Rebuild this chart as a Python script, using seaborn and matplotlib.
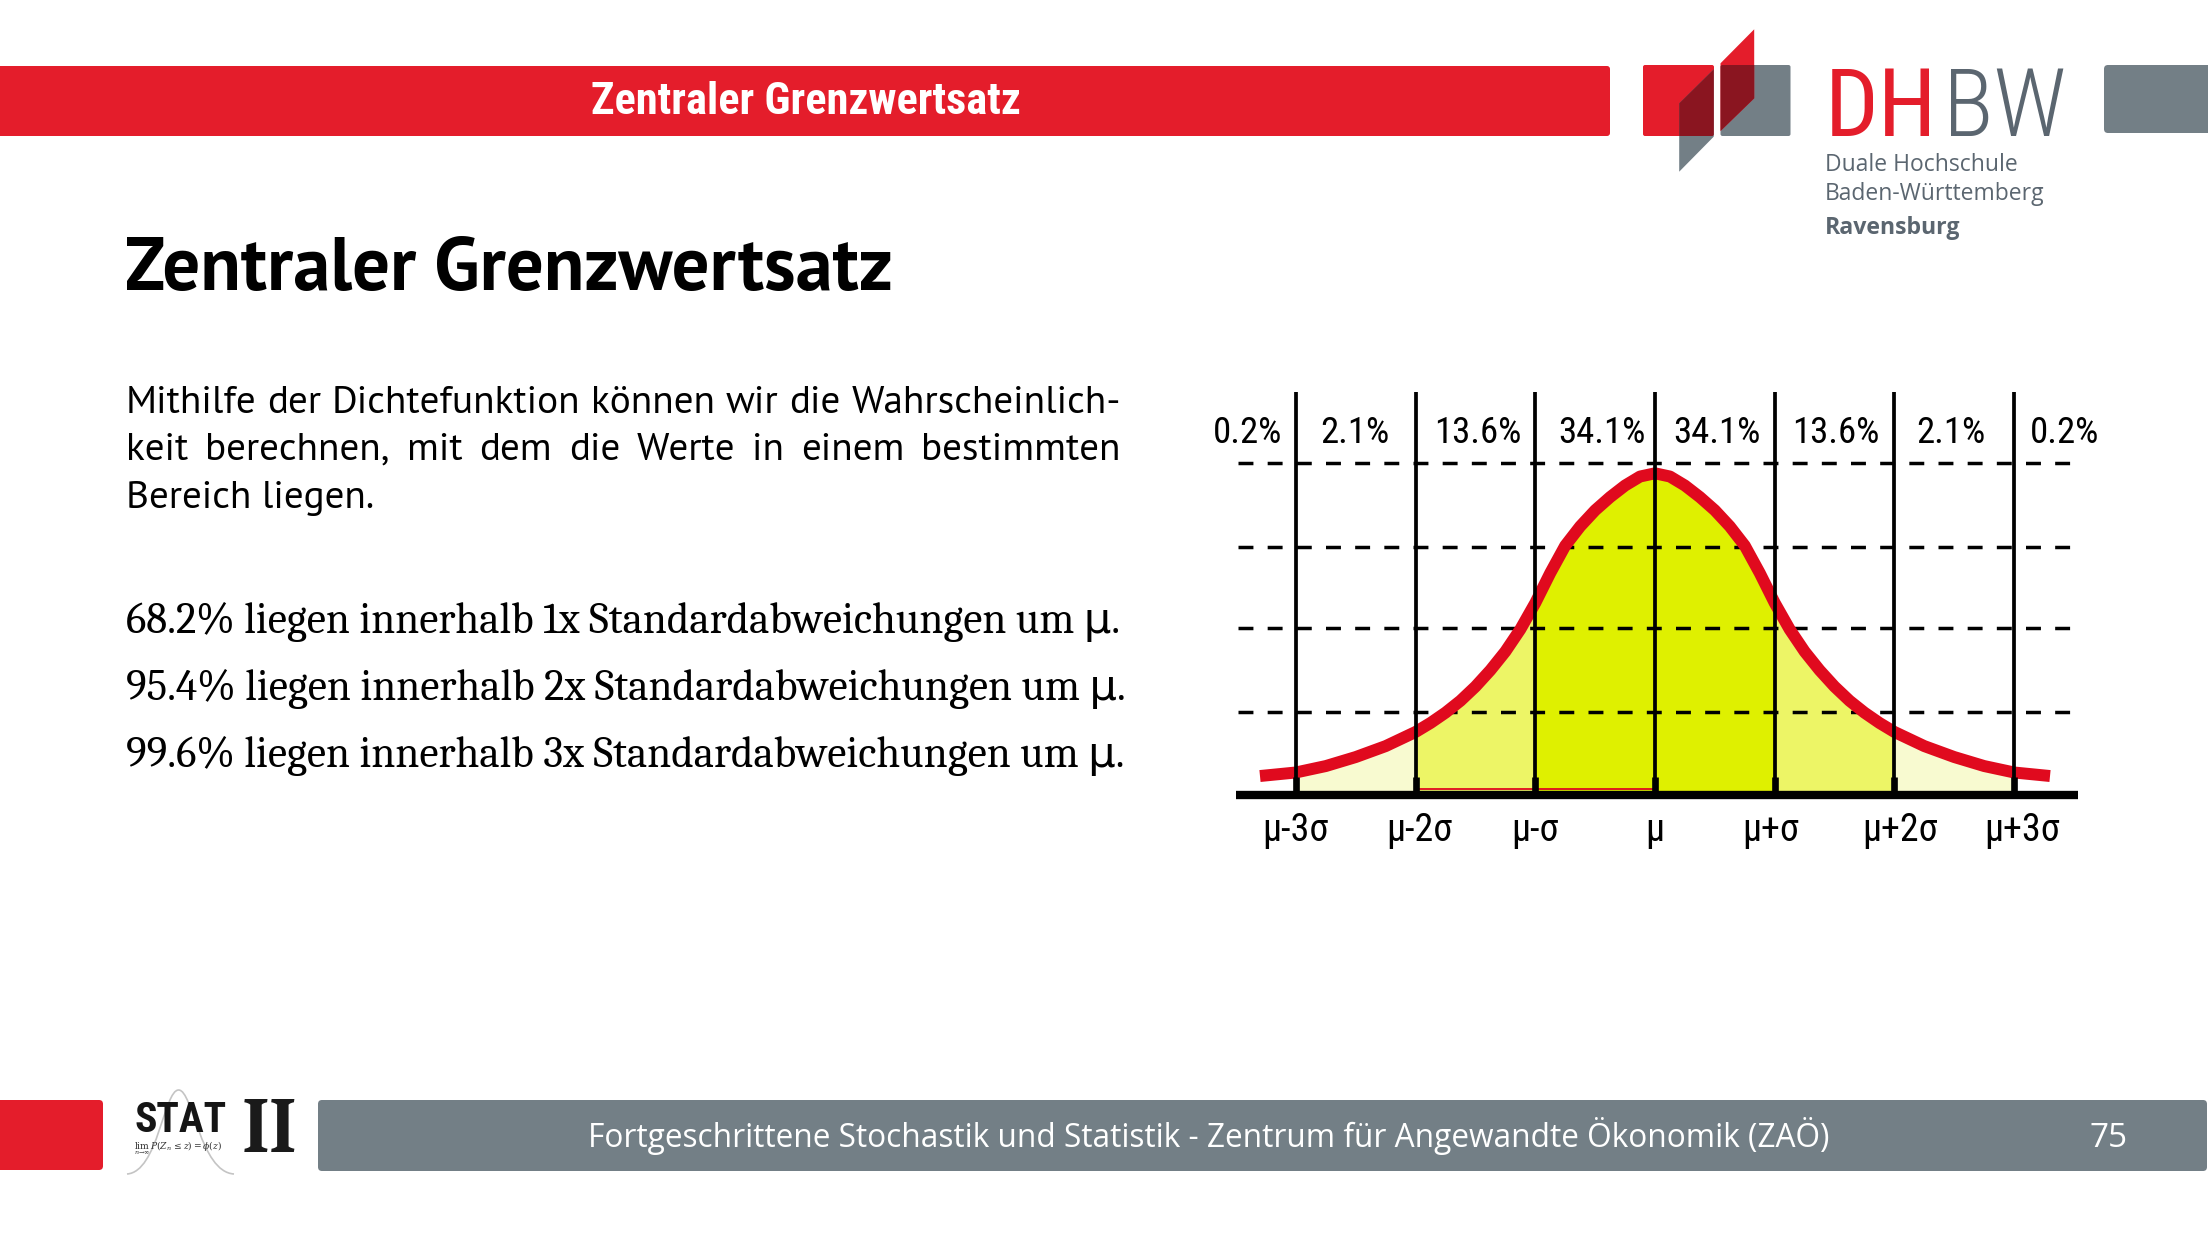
import matplotlib
matplotlib.use("Agg")
import matplotlib.pyplot as plt
from matplotlib import font_manager
from matplotlib.patches import FancyBboxPatch, Polygon, PathPatch
from matplotlib.path import Path
import pandas as pd
import seaborn as sns

# values (x in sigma units, y relative to the peak)
sigma_pos = [-3, -2, -1, 0, 1, 2, 3]
sigma_labels = ["μ-3σ", "μ-2σ", "μ-σ", "μ", "μ+σ", "μ+2σ", "μ+3σ"]
share_labels = ["0.2%", "2.1%", "13.6%", "34.1%", "34.1%", "13.6%", "2.1%", "0.2%"]
grid_levels = [0.259, 0.518, 0.772, 1.031]
curve_x = [-3.3, -3.0, -2.75, -2.5, -2.25, -2.0, -1.875, -1.75, -1.625, -1.5, -1.375,
           -1.25, -1.125, -1.0, -0.875, -0.75, -0.625, -0.5, -0.375, -0.25, -0.125,
           0.0, 0.125, 0.25, 0.375, 0.5, 0.625, 0.75, 0.875, 1.0, 1.125, 1.25,
           1.375, 1.5, 1.625, 1.75, 1.875, 2.0, 2.25, 2.5, 2.75, 3.0, 3.3]
curve_y = [0.059, 0.070, 0.090, 0.118, 0.152, 0.196, 0.224, 0.256, 0.293, 0.337, 0.388,
           0.446, 0.515, 0.597, 0.690, 0.775, 0.835, 0.885, 0.926, 0.962, 0.990,
           1.000, 0.990, 0.962, 0.926, 0.885, 0.835, 0.775, 0.690, 0.597, 0.515, 0.446,
           0.388, 0.337, 0.293, 0.256, 0.224, 0.196, 0.152, 0.118, 0.090, 0.070, 0.059]
band_edges = [(-3, -2), (-2, -1), (-1, 1), (1, 2), (2, 3)]

para_lines = ["Mithilfe der Dichtefunktion können wir die Wahrscheinlich-",
              "keit berechnen, mit dem die Werte in einem bestimmten",
              "Bereich liegen."]
rule_lines = ["68.2% liegen innerhalb 1x Standardabweichungen um μ.",
              "95.4% liegen innerhalb 2x Standardabweichungen um μ.",
              "99.6% liegen innerhalb 3x Standardabweichungen um μ."]
header_text = "Zentraler Grenzwertsatz"
footer_text = "Fortgeschrittene Stochastik und Statistik - Zentrum für Angewandte Ökonomik (ZAÖ)"
page_no = "75"

# colours
RED = "#E41D2B"
DARK_RED = "#8A1520"
GREY = "#737F86"
TEXT_GREY = "#5B6670"
CURVE_RED = "#E00A1E"
band_colors = ["#F8FAD0", "#EDF566", "#DFF000", "#EDF566", "#F8FAD0"]


def weights_of(name):
    out = set()
    for f in font_manager.fontManager.ttflist:
        if f.name == name and f.style == "normal" and f.stretch == "normal":
            w = f.weight
            out.add(font_manager.weight_dict.get(w, w) if isinstance(w, str) else w)
    return out


def pick(*cands):
    # first family that has a real regular and a real bold face
    for c in cands:
        ws = weights_of(c)
        if 400 in ws and 700 in ws:
            return [c, "DejaVu Sans"]
    return ["DejaVu Sans"]


SANS = pick("Source Sans Pro", "Source Sans 3", "PT Sans", "Open Sans")
FOOT = pick("Open Sans")
COND = pick("Roboto Condensed", "PT Sans Narrow", "Liberation Sans Narrow")
if COND == ["DejaVu Sans"]:
    COND = ["Roboto Condensed", "DejaVu Sans"]
SERIF = pick("Caladea", "PT Serif", "Liberation Serif")

sns.set_style("white")
plt.rcParams["font.family"] = SANS
plt.rcParams["text.color"] = "black"
plt.rcParams["mathtext.fontset"] = "dejavuserif"

W, H = 2208, 1242
fig = plt.figure(figsize=(W / 100, H / 100), dpi=100)
renderer = fig.canvas.get_renderer()

# background axes in pixel coordinates of the slide
bg = fig.add_axes([0, 0, 1, 1])
bg.set_xlim(0, W)
bg.set_ylim(H, 0)
bg.axis("off")


def fit(t, width):
    w = t.get_window_extent(renderer).width
    t.set_fontsize(t.get_fontsize() * width / w)
    return t


def box(x, y, w, h, color, r=3):
    p = FancyBboxPatch((x, y), w, h, boxstyle=f"round,pad=0,rounding_size={r}",
                       fc=color, ec="none")
    bg.add_patch(p)
    return p


# header bar
box(-10, 66, 1620, 70, RED)
fit(bg.text(806, 113.5, header_text, color="white", ha="center", va="baseline",
            fontsize=27, family=COND, fontweight="bold"), 431)

# DHBW logo
red_sq = box(1643, 65, 71, 71, RED, 2)
grey_sq = box(1720.5, 65, 70, 71, GREY, 2)
upper = [(1720.5, 63.3), (1754.2, 29.3), (1754.2, 98.3), (1720.5, 131)]
lower = [(1679.2, 103.3), (1713.7, 69.3), (1713.7, 136.7), (1679.2, 171.7)]
bg.add_patch(Polygon(upper, fc=RED, ec="none"))
p = bg.add_patch(Polygon(upper, fc=DARK_RED, ec="none"))
p.set_clip_path(grey_sq)
bg.add_patch(Polygon(lower, fc=GREY, ec="none"))
p = bg.add_patch(Polygon(lower, fc=DARK_RED, ec="none"))
p.set_clip_path(red_sq)

tmp = fit(bg.text(0, 0, "DHBW", fontsize=70, family=COND), 236)
logo_size = tmp.get_fontsize()
tmp.remove()
dh = bg.text(1825, 135.7, "DH", color=RED, va="baseline", fontsize=logo_size, family=COND)
dh_right = dh.get_window_extent(renderer).x1
bg.text(dh_right + 6, 135.7, "BW", color=TEXT_GREY, va="baseline", fontsize=logo_size,
        family=COND, fontweight="light")
fit(bg.text(1825, 170.7, "Duale Hochschule", color=TEXT_GREY, va="baseline",
            fontsize=17, family=FOOT), 192)
fit(bg.text(1825, 200.5, "Baden-Württemberg", color=TEXT_GREY, va="baseline",
            fontsize=17, family=FOOT), 220)
fit(bg.text(1825, 234, "Ravensburg", color=TEXT_GREY, va="baseline", fontsize=17,
            family=FOOT, fontweight="bold"), 136)
box(2104, 65, 120, 68, GREY, 4)

# title
fit(bg.text(125, 290, header_text, va="baseline", fontsize=52, fontweight="bold"), 768)

# paragraph, justified like the slide
tmp = fit(bg.text(0, 0, para_lines[0], fontsize=22), 995)
para_size = tmp.get_fontsize()
tmp.remove()
for y, line in zip([413.3, 459.5], para_lines[:2]):
    words = line.split()
    parts = [bg.text(0, y, w, va="baseline", fontsize=para_size) for w in words]
    widths = [t.get_window_extent(renderer).width for t in parts]
    gap = (1121 - 126 - sum(widths)) / (len(words) - 1)
    x = 126
    for t, w in zip(parts, widths):
        t.set_x(x)
        x += w + gap
bg.text(126, 507.5, para_lines[2], va="baseline", fontsize=para_size)

tmp = fit(bg.text(0, 0, rule_lines[0], fontsize=30, family=SERIF), 993)
rule_size = tmp.get_fontsize()
tmp.remove()
for y, line in zip([632.7, 700, 767.3], rule_lines):
    bg.text(126, y, line, va="baseline", fontsize=rule_size, family=SERIF)

# footer
box(-10, 1100, 113, 70, RED, 4)
box(318, 1100, 1889, 71, GREY, 4)
fit(bg.text(1209, 1147, footer_text, color="white", ha="center", va="baseline",
            fontsize=25, family=FOOT), 1243)
fit(bg.text(2109, 1147, page_no, color="white", ha="center", va="baseline",
            fontsize=28, family=FOOT), 38)

# STAT II badge
bell = Path([(127, 1174), (158, 1172), (164, 1090), (178.6, 1090),
             (193, 1090), (200, 1172), (234, 1174)],
            [Path.MOVETO, Path.CURVE4, Path.CURVE4, Path.CURVE4,
             Path.CURVE4, Path.CURVE4, Path.CURVE4])
bg.add_patch(PathPatch(bell, fc="none", ec="#C4C4C4", lw=1.2))
fit(bg.text(134, 1131.7, "STAT", color="#151515", va="baseline", fontsize=30,
            family=COND, fontweight="bold"), 92)
bg.text(242, 1152, "II", color="#1A1A1A", va="baseline", fontsize=56,
        family=SERIF, fontweight="bold")
fit(bg.text(134, 1150, r"$\lim_{n\to\infty}\, P(Z_n \leq z) = \phi(z)$", color="#333333",
            va="baseline", fontsize=8), 88)

# chart axes: mu at x=1655 px, sigma = 119.7 px, baseline y=795 px, peak 321.7 px high
mu_px, sig_px, base_px, unit_px = 1655, 119.7, 795, 321.7
x0, x1, y0, y1 = -3.8, 3.8, -0.25, 1.3
ax = fig.add_axes([(mu_px + x0 * sig_px) / W, (H - (base_px - y0 * unit_px)) / H,
                   (x1 - x0) * sig_px / W, (y1 - y0) * unit_px / H])
ax.set_xlim(x0, x1)
ax.set_ylim(y0, y1)
ax.axis("off")
ax.patch.set_alpha(0)

curve = pd.DataFrame({"x": curve_x, "y": curve_y})
for (a, b), c in zip(band_edges, band_colors):
    part = curve[(curve.x >= a) & (curve.x <= b)]
    ax.fill_between(part.x, 0, part.y, color=c, lw=0, zorder=1)

ax.hlines(grid_levels, -3.48, 3.52, colors="black", lw=2.5,
          linestyles=[(0, (4.3, 4.1))], zorder=2)
sns.lineplot(data=curve, x="x", y="y", ax=ax, color=CURVE_RED, linewidth=8.6, sort=False,
             zorder=3, solid_capstyle="butt", solid_joinstyle="round")
ax.hlines(0.02, -2, 0, colors=CURVE_RED, lw=1.3, zorder=3)
ax.vlines(sigma_pos, 0, 1.253, colors="black", lw=2.7, zorder=4)
ax.vlines(sigma_pos, 0, 0.056, colors="black", lw=4.8, zorder=4)
ax.hlines(0, -3.5, 3.53, colors="black", lw=6, zorder=5)

share_pos = [-3.40, -2.51, -1.48, -0.44, 0.52, 1.51, 2.47, 3.42]
tmp = fit(ax.text(0, 0, "13.6%", fontsize=30, family=COND), 87)
share_size = tmp.get_fontsize()
tmp.remove()
for pos, lab in zip(share_pos, share_labels):
    ax.text(pos, 1.095, lab, ha="center", va="baseline", fontsize=share_size,
            family=COND, color="black")

label_pos = [-3.0, -1.97, -1.0, 0.0, 0.97, 2.05, 3.07]
tmp = fit(ax.text(0, 0, "μ+2σ", fontsize=27, family=COND), 76)
label_size = tmp.get_fontsize()
tmp.remove()
for pos, lab in zip(label_pos, sigma_labels):
    ax.text(pos, -0.142, lab, ha="center", va="baseline", fontsize=label_size,
            family=COND, color="black")

fig.savefig("out.png", dpi=100)
